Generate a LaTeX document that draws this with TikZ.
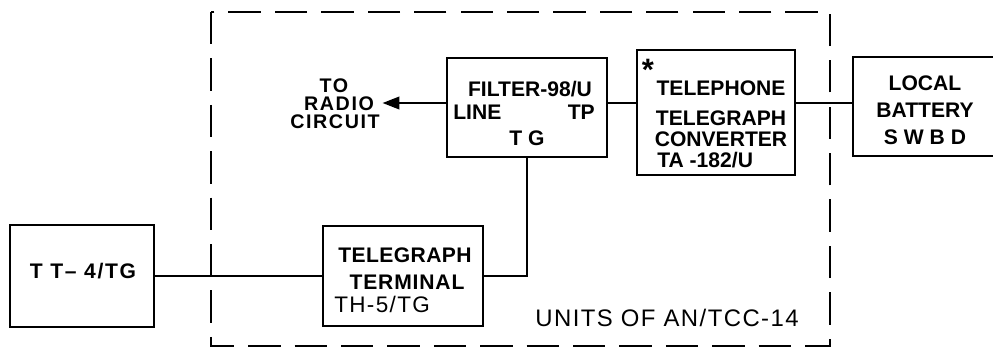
\documentclass[tikz,border=0pt]{standalone}
\usepackage{fontspec}
\setmainfont{Liberation Sans}
\usetikzlibrary{arrows.meta,positioning}

\tikzset{
  box/.style={draw,line width=1.5pt,inner sep=0pt},
  wire/.style={line width=1.4pt},
  lbl/.style={inner sep=0pt,text depth=0pt,font=\fontsize{15}{15}\selectfont\bfseries},
  thin lbl/.style={inner sep=0pt,text depth=0pt,font=\fontsize{15}{15}\selectfont},
  radio lbl/.style={inner sep=0pt,text depth=0pt,
    font=\fontsize{14}{14}\selectfont\bfseries\addfontfeatures{LetterSpace=8}},
}

\begin{document}
\begin{tikzpicture}[x=0.025cm,y=-0.025cm]
  \useasboundingbox (0,0) rectangle (993,350);
  \clip (0,0) rectangle (993,350);

  % units of the set
  \draw[line width=2.1pt,dash pattern=on 23pt off 10pt] (211,12) rectangle (830,346);
  \node[thin lbl,font=\fontsize{17}{17}\selectfont\addfontfeatures{LetterSpace=6}]
    (units) at (667,318) {UNITS OF AN/TCC-14};

  % boxes
  \node[box,minimum width=3.6cm,minimum height=2.55cm] (tt) at (82,276) {};
  \node[box,minimum width=4cm,minimum height=2.5cm] (term) at (403,276) {};
  \node[box,minimum width=4cm,minimum height=2.475cm] (filter) at (527,107.5) {};
  \node[box,minimum width=3.95cm,minimum height=3.125cm] (conv) at (716,112.5) {};
  \node[box,minimum width=4cm,minimum height=2.475cm] (batt) at (933,106.5) {};

  % box texts
  \node[lbl,font=\fontsize{15}{15}\selectfont\bfseries\addfontfeatures{LetterSpace=8}]
    (tt-1) at (83,271) {T T– 4/TG};
  \node[lbl,font=\fontsize{15}{15}\selectfont\bfseries\addfontfeatures{LetterSpace=2}]
    (term-1) at (405,255) {TELEGRAPH};
  \node[lbl,font=\fontsize{15}{15}\selectfont\bfseries\addfontfeatures{LetterSpace=4}]
    (term-2) at (407,282) {TERMINAL};
  \node[thin lbl,anchor=west,font=\fontsize{16}{16}\selectfont\addfontfeatures{LetterSpace=6}]
    (term-3) at (334,304) {TH-5/TG};
  \node[lbl] (filter-1) at (530,89) {FILTER-98/U};
  \node[lbl,anchor=west] (filter-2) at (453,112) {LINE};
  \node[lbl,anchor=east] (filter-3) at (595,112) {TP};
  \node[lbl] (filter-4) at (527,138) {T G};
  \node[lbl,font=\fontsize{22}{22}\selectfont\bfseries] (conv-0) at (648,70) {*};
  \node[lbl] (conv-1) at (721,88) {TELEPHONE};
  \node[lbl] (conv-2) at (721,118) {TELEGRAPH};
  \node[lbl] (conv-3) at (721,139) {CONVERTER};
  \node[lbl,anchor=west] (conv-4) at (657,160) {TA -182/U};
  \foreach \t [count=\i] in {LOCAL,BATTERY,S W B D}
    \node[lbl] (batt-\i) at (925,56+27*\i) {\t};

  % radio side
  \node[radio lbl] (radio-1) at (334,86) {TO};
  \node[radio lbl] (radio-2) at (339,104) {RADIO};
  \node[radio lbl] (radio-3) at (335,122) {CIRCUIT};

  % connections
  \coordinate (bus) at (0,103);
  \draw[wire] (tt.east |- term.west) -- (term.west);
  \draw[wire] (term.east) -| (filter.south);
  \draw[wire,-{Triangle[length=12pt,width=9pt]}] (filter.west |- bus)
    -- ([xshift=6pt]radio-2.east |- bus);
  \draw[wire] (filter.east |- bus) -- (conv.west |- bus);
  \draw[wire] (conv.east |- bus) -- (batt.west |- bus);
\end{tikzpicture}
\end{document}
